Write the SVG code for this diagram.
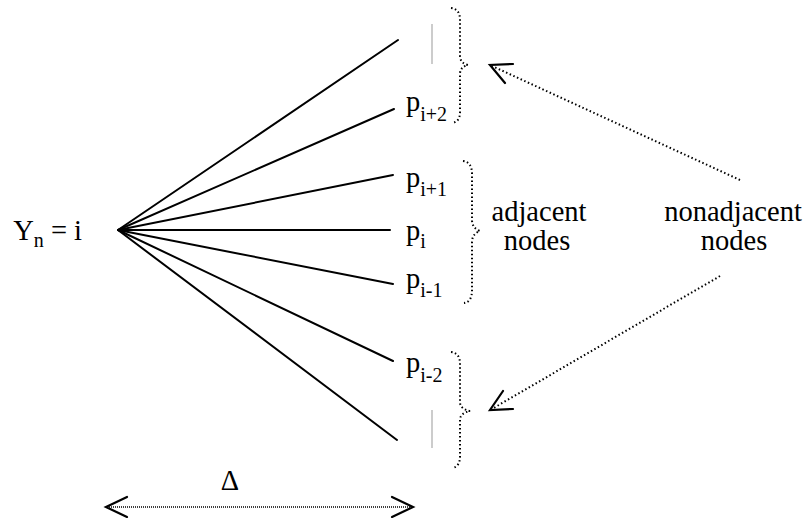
<svg xmlns="http://www.w3.org/2000/svg" width="809" height="518" viewBox="0 0 809 518">
<style>
.t{font-family:'Liberation Serif','Times New Roman',serif;font-size:28.5px;fill:#000}
.s{font-size:20px}
.fan{stroke:#000;stroke-width:2;fill:none;stroke-linecap:round}
.br{stroke:#000;stroke-width:2;fill:none;stroke-dasharray:1.5 2.5}
.dot{stroke:#000;stroke-width:2;fill:none;stroke-dasharray:1.5 2.5}
.barb{stroke:#000;stroke-width:2.2;fill:none;stroke-linecap:round}
.gray{stroke:#aaa;stroke-width:1.2}
</style>
<rect width="809" height="518" fill="#fff"/>
<g id="connectors">
<g id="fan">
<line class="fan" x1="118" y1="230" x2="398" y2="40"/>
<line class="fan" x1="118" y1="230" x2="394" y2="109"/>
<line class="fan" x1="118" y1="230" x2="393" y2="175"/>
<line class="fan" x1="118" y1="230" x2="390" y2="230"/>
<line class="fan" x1="118" y1="230" x2="393" y2="284"/>
<line class="fan" x1="118" y1="230" x2="393" y2="361"/>
<line class="fan" x1="118" y1="230" x2="397" y2="440"/>
</g>
<line class="gray" x1="432" y1="24" x2="432" y2="64"/>
<line class="gray" x1="432" y1="410" x2="432" y2="448"/>
<g id="arrow-top">
<line class="dot" x1="740" y1="180" x2="492" y2="66"/>
<polyline class="barb" points="513,64 490,65 505,83"/>
</g>
<g id="arrow-bottom">
<line class="dot" x1="720" y1="276" x2="492" y2="409"/>
<polyline class="barb" points="503,391 490,410 513,409"/>
</g>
<g id="delta-arrow">
<line stroke="#000" stroke-width="1.5" stroke-dasharray="1 1" x1="107" y1="507" x2="412" y2="507"/>
<polyline class="barb" points="127,497 106,507 127,517"/>
<polyline class="barb" points="392,497 413,507 392,517"/>
</g>
</g>
<g id="braces">
<path class="br" d="M451,8 Q460,9 460,20 L460,56 Q460,63 468,65 Q460,67 460,74 L460,112 Q460,122 452,123"/>
<path class="br" d="M463,161 Q472,162 472,174 L472,220 Q472,228 480,231 Q472,234 472,242 L472,290 Q472,302 464,303"/>
<path class="br" d="M451,352 Q460,353 460,364 L460,402 Q460,409 470,411 Q460,413 460,420 L460,456 Q460,467 452,468"/>
</g>
<g id="node-Yn"><text class="t" x="82" y="240" text-anchor="end">Y<tspan class="s" dy="7">n</tspan><tspan dy="-7"> = i</tspan></text></g>
<g id="node-pi2"><text class="t" x="406" y="111">p<tspan class="s" dy="10">i+2</tspan></text></g>
<g id="node-pi1"><text class="t" x="406" y="187">p<tspan class="s" dy="9">i+1</tspan></text></g>
<g id="node-pi"><text class="t" x="406" y="240">p<tspan class="s" dy="8">i</tspan></text></g>
<g id="node-pim1"><text class="t" x="406" y="288">p<tspan class="s" dy="9">i-1</tspan></text></g>
<g id="node-pim2"><text class="t" x="406" y="372">p<tspan class="s" dy="10">i-2</tspan></text></g>
<g id="label-adjacent"><text class="t" x="539" y="221" text-anchor="middle">adjacent</text><text class="t" x="537" y="250" text-anchor="middle">nodes</text></g>
<g id="label-nonadjacent"><text class="t" x="733" y="221" text-anchor="middle">nonadjacent</text><text class="t" x="734" y="250" text-anchor="middle">nodes</text></g>
<g id="label-delta"><text class="t" x="230" y="490" text-anchor="middle">Δ</text></g>
</svg>
